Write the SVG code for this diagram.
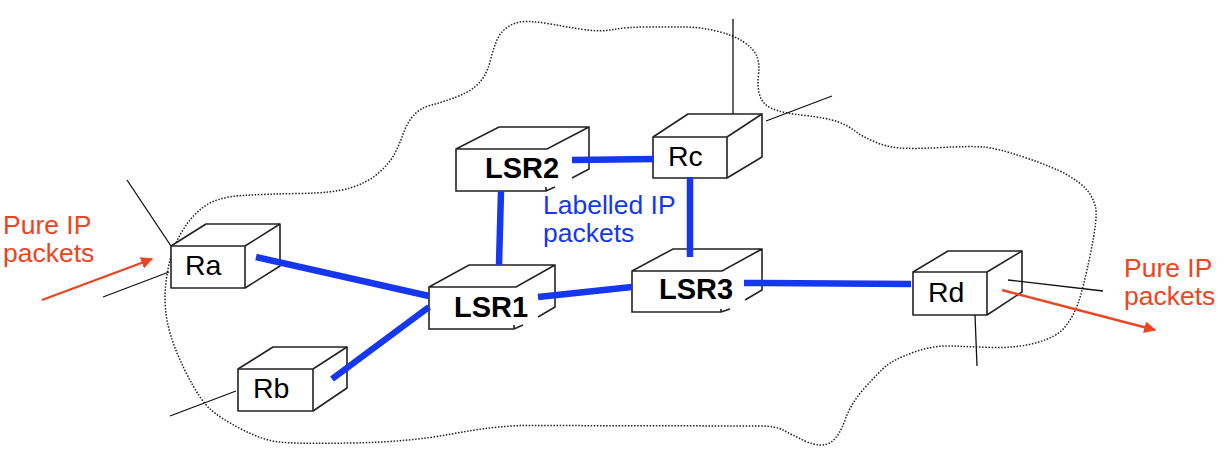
<svg xmlns="http://www.w3.org/2000/svg" width="1231" height="454" viewBox="0 0 1231 454">
<style>
.cloud{fill:none;stroke:#222;stroke-width:1.5;stroke-dasharray:1.5 1.6}
.box{fill:#fff;stroke:#222;stroke-width:1.6;stroke-linejoin:round}
.edge{fill:none;stroke:#222;stroke-width:1.6}
.stub{fill:none;stroke:#111;stroke-width:1.3}
.link{fill:none;stroke:#1537f0;stroke-width:6.5}
.flow{fill:none;stroke:#ec4522;stroke-width:2.4}
text{font-family:"Liberation Sans",Arial,sans-serif}
.n{font-size:28.5px;fill:#000}
.b{font-size:29px;font-weight:700;fill:#000}
.r{font-size:26.5px;fill:#ec4522}
.l{font-size:26.5px;fill:#1537f0}
</style>
<defs>
<marker id="ah" viewBox="0 0 10 10" refX="9" refY="5" markerWidth="5" markerHeight="5" orient="auto" markerUnits="strokeWidth"><path d="M0 0L10 5L0 10z" fill="#ec4522"/></marker>
</defs>
<path id="cloud" class="cloud" d="M455 97.5Q467 93 473.5 88Q480 83 484 76.5Q488 70 490.5 60Q493 50 496.5 41Q500 32 508.5 26.5Q517 21 528.5 21.5Q540 22 553.5 24.5Q567 27 583.5 29.5Q600 32 613.5 29.5Q627 27 647 27Q667 27 683.5 27Q700 27 716.5 31Q733 35 743 41.5Q753 48 756.5 55.5Q760 63 758.5 75Q757 87 760 96Q763 105 773 109Q783 113 805 115.5Q827 118 837 121.5Q847 125 855 131Q863 137 875 142Q887 147 900 148Q913 149 941.5 147.5Q970 146 983.5 147Q997 148 1025 157.5Q1053 167 1066.5 174.5Q1080 182 1086.5 189.5Q1093 197 1095.5 207Q1098 217 1090.5 253.5Q1083 290 1078 303.5Q1073 317 1065 327Q1057 337 1037 342.5Q1017 348 995 347.5Q973 347 953 346Q933 345 913 352.5Q893 360 886 366Q879 372 865 387.5Q851 403 845 420Q839 437 830.5 442.5Q822 448 806 441.5Q790 434 783 430Q776 426 760 426L523 425.5Q494 426 451.5 434Q409 442 352.5 443Q296 444 279 442Q262 440 241 429Q220 418 210 409Q200 400 186.5 373.5Q173 347 168 325Q163 303 166.5 278Q170 253 180 235Q190 217 203.5 207Q217 197 242 195.5Q267 194 300 193.5Q333 193 350 188Q367 183 378.5 173Q390 163 395 153Q400 143 403.5 133Q407 123 413.5 115.5Q420 108 431.5 105Q443 102 455 97.5Z"/>
<g id="node-ra">
<path class="box" d="M171 246L206 224H280V266L245 288H171Z"/>
<path class="edge" d="M171 246H245V288M245 246L280 224"/>
<text class="n" x="185" y="275">Ra</text>
</g>
<g id="node-rb">
<path class="box" d="M238 369L273 347H347V388L313 411H238Z"/>
<path class="edge" d="M238 369H313V411M313 369L347 347"/>
<text class="n" x="253" y="398">Rb</text>
</g>
<g id="node-rc">
<path class="box" d="M653 137L688 114H762V157L727 178H653Z"/>
<path class="edge" d="M653 137H727V178M727 137L762 114"/>
<text class="n" x="668" y="166">Rc</text>
</g>
<g id="node-rd">
<path class="box" d="M913 272L948 251H1022V292L987 315H913Z"/>
<path class="edge" d="M913 272H987V315M987 272L1022 251"/>
<text class="n" x="928" y="302">Rd</text>
</g>
<g id="node-lsr2">
<path class="edge" d="M572 178L589 169V127H499L456 149V191H546L555 187M546 191V187M456 149H547L589 127"/>
<text class="b" x="485" y="178">LSR2</text>
</g>
<g id="node-lsr1">
<path class="edge" d="M538 317L555 307V265H469L429 287V329H514L523 325M514 329V325M429 287H516L555 265"/>
<text class="b" x="454" y="317">LSR1</text>
</g>
<g id="node-lsr3">
<path class="edge" d="M745 300L762 290V249H673L632 271V312H721L730 309M721 312V309M632 271H722L762 249"/>
<text class="b" x="659" y="299">LSR3</text>
</g>
<g id="connectors">
<path class="stub" d="M127 180L171 246M103 297L169 272M170 416L236 391M733 19V114M766 121L832 96M1008 280L1103 291M975 315L977 366"/>
<path class="link" d="M256 257L429 296M332 379L429 307M499 265L501 191M538 297L632 287M572 160L654 159M690 177V257M744 283L911 284"/>
<path class="flow" marker-end="url(#ah)" d="M42 300L152 259"/>
<path class="flow" marker-end="url(#ah)" d="M1002 290L1155 330"/>
</g>
<text class="r" x="3" y="234">Pure IP</text>
<text class="r" x="3" y="262">packets</text>
<text class="r" x="1124" y="277">Pure IP</text>
<text class="r" x="1124" y="305">packets</text>
<text class="l" x="543" y="214">Labelled IP</text>
<text class="l" x="543" y="242">packets</text>
</svg>
